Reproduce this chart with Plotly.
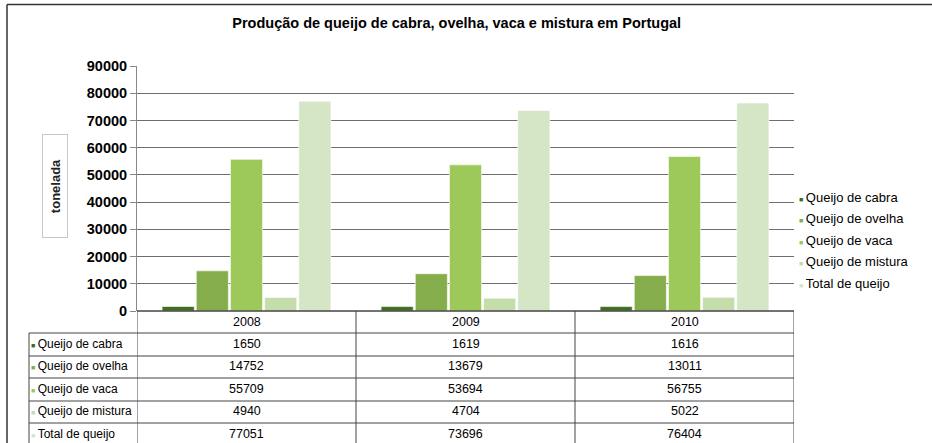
import plotly.graph_objects as go

years = ["2008", "2009", "2010"]
series_names = ["Queijo de cabra", "Queijo de ovelha", "Queijo de vaca", "Queijo de mistura", "Total de queijo"]
cabra = [1650, 1619, 1616]
ovelha = [14752, 13679, 13011]
vaca = [55709, 53694, 56755]
mistura = [4940, 4704, 5022]
total = [77051, 73696, 76404]
y_ticks = [0, 10000, 20000, 30000, 40000, 50000, 60000, 70000, 80000, 90000]
colors = ["#3f6e1f", "#86ad4b", "#9cc95a", "#c5dcab", "#d5e6c6"]

values = [cabra, ovelha, vaca, mistura, total]

W, H = 932, 443
L, R, T, B = 137, 794, 66, 311  # plot area in pixels


def py(p):
    return (B - p) / (B - T)


def px(p):
    return (p - L) / (R - L)


fig = go.Figure()
for name, vals, c in zip(series_names, values, colors):
    fig.add_trace(go.Bar(x=years, y=vals, name=name,
                         marker=dict(color=c, line=dict(color="rgba(255,255,255,0.6)", width=1))))

fig.update_layout(
    width=W, height=H,
    margin=dict(l=L, r=W - R, t=T, b=H - B, pad=0),
    paper_bgcolor="white", plot_bgcolor="white",
    barmode="group", bargap=0.22, bargroupgap=0.06,
    showlegend=False,
    font=dict(family="Liberation Sans, Arial, sans-serif", color="black", size=12),
    title=dict(text="<b>Produção de queijo de cabra, ovelha, vaca e mistura em Portugal</b>",
               x=0.49, xanchor="center", y=1 - 23 / H, yanchor="middle",
               font=dict(size=14.5, color="black")),
    xaxis=dict(type="category", range=[-0.5, 2.5], showticklabels=False, showgrid=False,
               zeroline=False, showline=False, ticks=""),
    yaxis=dict(range=[0, 90000], tickvals=y_ticks, ticktext=[f"<b>{v}</b>" for v in y_ticks],
               showgrid=True, gridcolor="#6e6e6e", gridwidth=1, zeroline=False,
               showline=True, linecolor="#888888", linewidth=1,
               ticks="outside", ticklen=6, tickcolor="#888888",
               tickfont=dict(size=14.5, color="black")),
)

shapes = []
line_c = "#444444"
# outer frame (top and left edges)
shapes.append(dict(type="line", xref="paper", yref="paper", x0=px(7), x1=px(940), y0=py(4.5), y1=py(4.5),
                   line=dict(color="#333333", width=1.5)))
shapes.append(dict(type="line", xref="paper", yref="paper", x0=px(7), x1=px(7), y0=py(4.5), y1=py(450),
                   line=dict(color="#333333", width=1.5)))
# zero line
shapes.append(dict(type="line", xref="paper", yref="paper", x0=0, x1=1, y0=0, y1=0, line=dict(color=line_c, width=1)))

row_edges = [311, 333, 356, 378, 401, 423, 446]
# table horizontal lines
for i, r in enumerate(row_edges):
    x0 = px(137) if i == 0 else px(29)
    shapes.append(dict(type="line", xref="paper", yref="paper", x0=x0, x1=1, y0=py(r), y1=py(r),
                       line=dict(color=line_c, width=1)))
# vertical dividers (category boundaries)
for b in [-0.5, 0.5, 1.5, 2.5]:
    shapes.append(dict(type="line", xref="x", yref="paper", x0=b, x1=b, y0=py(311), y1=py(446),
                       line=dict(color=line_c, width=1)))
# left edge of label column
shapes.append(dict(type="line", xref="paper", yref="paper", x0=px(29), x1=px(29), y0=py(333), y1=py(446),
                   line=dict(color=line_c, width=1)))

annotations = []
# header years
for i, yv in enumerate(years):
    annotations.append(dict(x=i, xref="x", y=py(322), yref="paper", text=yv, showarrow=False,
                            font=dict(size=12.5), xanchor="center", yanchor="middle"))
# rows
for ri, (name, vals, c) in enumerate(zip(series_names, values, colors)):
    yc = py((row_edges[ri + 1] + row_edges[ri + 2]) / 2 - 1)
    annotations.append(dict(x=px(29), xref="paper", y=yc, yref="paper",
                            text=f"<span style='color:{c};font-size:7px'>■</span>\u2009{name}", showarrow=False,
                            font=dict(size=12), xanchor="left", yanchor="middle"))
    for i, v in enumerate(vals):
        annotations.append(dict(x=i, xref="x", y=yc, yref="paper", text=str(v), showarrow=False,
                                font=dict(size=12.5), xanchor="center", yanchor="middle"))
# legend
leg_y = [197, 218.5, 240, 261.5, 283]
for name, c, ly in zip(series_names, colors, leg_y):
    annotations.append(dict(x=px(797), xref="paper", y=py(ly), yref="paper",
                            text=f"<span style='color:{c};font-size:7px'>■</span>\u2009{name}", showarrow=False,
                            font=dict(size=13), xanchor="left", yanchor="middle"))
# y axis title box
annotations.append(dict(x=px(55), xref="paper", y=py(186), yref="paper", text="<b>tonelada</b>",
                        textangle=-90, showarrow=False, font=dict(size=13, color="#222222"),
                        width=96, height=18, bordercolor="#c8c8c8", borderwidth=1, borderpad=3,
                        xanchor="center", yanchor="middle"))

fig.update_layout(shapes=shapes, annotations=annotations)
fig.write_html("out.html", config={"displayModeBar": False},
               post_script="document.body.style.margin='0';")
